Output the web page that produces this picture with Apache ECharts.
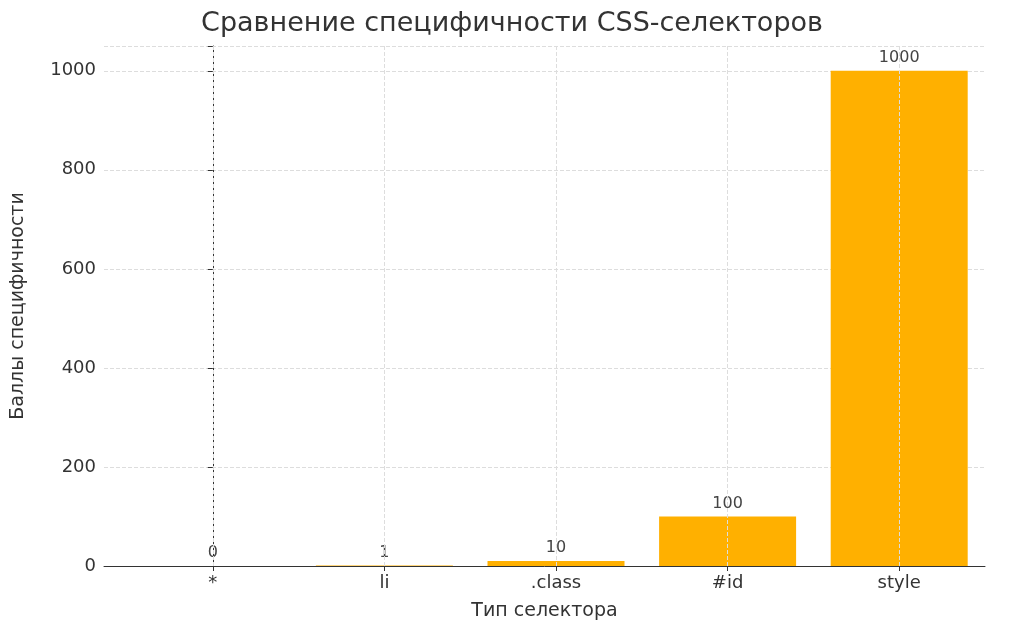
<!DOCTYPE html>
<html>
<head>
<meta charset="utf-8">
<script src="https://cdn.jsdelivr.net/npm/echarts@6/dist/echarts.min.js"></script>
<style>html,body{margin:0;padding:0;background:#fff}#main{width:1024px;height:635px}</style>
</head>
<body>
<div id="main"></div>
<script>
var categories = ['*', 'li', '.class', '#id', 'style'];
var scores = [0, 1, 10, 100, 1000];
var yTicks = [0, 200, 400, 600, 800, 1000];

var positions = categories.map(function (c, i) { return i; });
var font = 'DejaVu Sans';
var chart = echarts.init(document.getElementById('main'));
chart.setOption({
    animation: false,
    textStyle: { fontFamily: font },
    title: {
        text: 'Сравнение специфичности CSS-селекторов',
        left: 'center', top: 5,
        textStyle: { fontFamily: font, fontSize: 27, fontWeight: 'normal', color: '#333' }
    },
    grid: { left: 104, right: 39, top: 46, bottom: 69 },
    xAxis: {
        type: 'value',
        min: -0.634, max: 4.5,
        name: 'Тип селектора',
        nameLocation: 'middle',
        nameGap: 36,
        nameTextStyle: { fontSize: 19, color: '#333' },
        axisLine: { lineStyle: { color: '#333' } },
        axisTick: { show: true, customValues: positions, lineStyle: { color: '#333' } },
        axisLabel: {
            fontSize: 18, color: '#333', margin: 8, customValues: positions,
            formatter: function (v) { return categories[Math.round(v)]; }
        },
        splitLine: { show: false }
    },
    yAxis: {
        type: 'value',
        min: 0, max: 1050, interval: 200,
        name: 'Баллы специфичности',
        nameLocation: 'middle',
        nameGap: 76,
        nameTextStyle: { fontSize: 19, color: '#333' },
        axisLine: { show: true, lineStyle: { color: '#333' } },
        axisTick: { show: true, lineStyle: { color: '#333' } },
        axisLabel: {
            fontSize: 18, color: '#333',
            formatter: function (v) { return yTicks.indexOf(v) >= 0 ? v : ''; }
        },
        splitLine: { lineStyle: { type: 'dashed', color: '#ddd' } }
    },
    series: [{
        type: 'bar',
        data: positions.map(function (p, i) { return [p, scores[i]]; }),
        barWidth: 137,
        itemStyle: { color: '#FFB000' },
        label: { show: true, position: 'top', fontSize: 16, color: '#444', distance: 5,
            formatter: function (p) { return p.value[1]; } },
        markLine: {
            silent: true, symbol: 'none', label: { show: false },
            lineStyle: { type: 'dashed', color: '#ddd', width: 1 },
            data: positions.map(function (p) { return { xAxis: p }; })
        },
        z: 2
    }]
});
</script>
</body>
</html>
